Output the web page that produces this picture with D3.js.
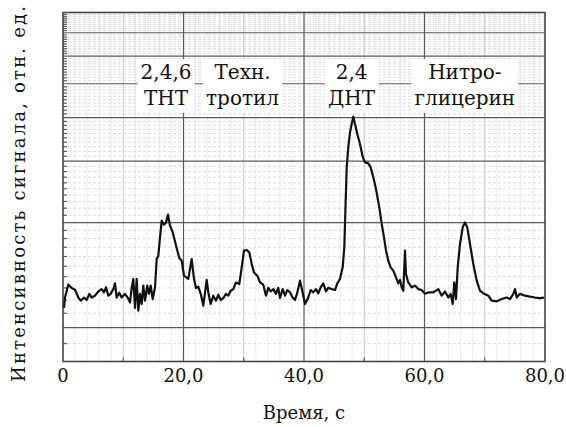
<!DOCTYPE html>
<html>
<head>
<meta charset="utf-8">
<script src="https://cdn.jsdelivr.net/npm/d3@7"></script>
<style>
  body { margin: 0; background: #fff; }
  text { font-family: "DejaVu Serif", serif; fill: #111; }
</style>
</head>
<body>
<div id="chart"></div>
<script>
// Time axis, seconds
const timeSec = [
  0.17, 0.33, 0.88, 1.44, 1.99, 2.54, 2.94, 3.49, 3.93, 4.37, 4.76, 5.31, 5.86, 6.42, 6.80, 7.14, 7.52, 7.92, 8.35, 8.63,
  8.91, 9.34, 9.74, 10.29, 10.74, 11.12, 11.40, 11.67, 11.95, 12.23, 12.50, 12.78, 13.06, 13.33, 13.61, 13.99, 14.27, 14.56, 14.89, 15.27,
  15.55, 15.82, 16.10, 16.38, 16.76, 17.10, 17.43, 17.76, 18.21, 18.76, 19.30, 19.70, 20.08, 20.80, 21.36, 21.74, 22.07, 22.46, 22.86, 23.29,
  23.85, 24.12, 24.51, 24.95, 25.39, 25.78, 26.17, 26.61, 27.05, 27.44, 27.83, 28.27, 28.71, 29.26, 29.66, 30.04, 30.49, 30.92, 31.32, 31.70,
  32.25, 32.70, 33.24, 33.69, 34.07, 34.47, 34.90, 35.35, 35.73, 36.02, 36.46, 36.85, 37.23, 37.68, 38.12, 38.51, 38.89, 39.34, 39.78, 40.17,
  40.71, 41.11, 41.54, 41.99, 42.37, 42.77, 43.20, 43.65, 44.03, 44.60, 45.15, 45.53, 45.98, 46.42, 46.69, 46.92, 47.09, 47.35, 47.63, 47.92,
  48.18, 48.46, 48.85, 49.29, 49.74, 50.12, 50.67, 51.07, 51.50, 51.95, 52.50, 52.90, 53.28, 53.61, 53.99, 54.39, 54.82, 55.27, 55.65, 55.93,
  56.22, 56.48, 56.76, 56.93, 57.31, 57.88, 58.42, 58.97, 59.53, 60.08, 60.63, 61.46, 62.29, 62.85, 63.40, 63.95, 64.35, 64.68, 64.95, 65.23,
  65.51, 65.89, 66.34, 66.72, 67.10, 67.55, 68.10, 68.66, 69.21, 69.88, 70.59, 71.15, 71.98, 72.81, 73.64, 74.19, 74.74, 75.02, 75.30, 75.85,
  76.68, 77.51, 78.34, 79.17, 79.83
];

// Signal intensity, relative units
const intensity = [
  1.14, 1.22, 1.33, 1.30, 1.285, 1.22, 1.195, 1.22, 1.20, 1.249, 1.22, 1.235, 1.27, 1.29, 1.262, 1.305, 1.235, 1.25, 1.29, 1.34,
  1.22, 1.26, 1.22, 1.25, 1.22, 1.18, 1.30, 1.379, 1.14, 1.38, 1.119, 1.25, 1.169, 1.32, 1.195, 1.32, 1.25, 1.32, 1.208, 1.305,
  1.573, 1.608, 1.815, 2.026, 1.973, 2.003, 2.108, 1.960, 1.876, 1.718, 1.584, 1.556, 1.409, 1.38, 1.573, 1.382, 1.30, 1.311, 1.25, 1.156,
  1.37, 1.262, 1.169, 1.235, 1.195, 1.243, 1.20, 1.216, 1.25, 1.235, 1.276, 1.29, 1.348, 1.334, 1.489, 1.662, 1.670, 1.644, 1.522, 1.440,
  1.409, 1.348, 1.328, 1.235, 1.30, 1.27, 1.29, 1.25, 1.30, 1.216, 1.29, 1.235, 1.282, 1.262, 1.22, 1.20, 1.262, 1.364, 1.26, 1.169,
  1.22, 1.282, 1.262, 1.29, 1.254, 1.305, 1.34, 1.27, 1.30, 1.29, 1.282, 1.34, 1.38, 1.489, 1.699, 2.311, 2.879, 3.286, 3.628, 3.835,
  4.024, 3.835, 3.589, 3.361, 3.090, 2.976, 2.957, 2.879, 2.696, 2.497, 2.212, 1.982, 1.815, 1.662, 1.556, 1.489, 1.457, 1.394, 1.34, 1.37,
  1.305, 1.276, 1.662, 1.425, 1.348, 1.305, 1.32, 1.29, 1.282, 1.25, 1.262, 1.262, 1.29, 1.235, 1.27, 1.22, 1.25, 1.169, 1.348, 1.208,
  1.489, 1.737, 1.938, 2.003, 1.938, 1.737, 1.522, 1.364, 1.276, 1.25, 1.235, 1.195, 1.19, 1.208, 1.22, 1.208, 1.25, 1.29, 1.22, 1.25,
  1.235, 1.227, 1.22, 1.216, 1.22
];

// Tick labels of the time axis
const xTicks = [0, 20, 40, 60, 80];
const xTickLabels = ["0", "20,0", "40,0", "60,0", "80,0"];

// Peak annotations: two lines each, centred at a time value
const peakTime = [17.1, 29.8, 47.9, 66.7];
const peakLine1 = ["2,4,6", "Техн.", "2,4", "Нитро-"];
const peakLine2 = ["ТНТ", "тротил", "ДНТ", "глицерин"];

const width = 566, height = 427;
const margin = { top: 12.5, right: 21, bottom: 65.5, left: 63 };

const svg = d3.select("#chart").append("svg")
  .attr("width", width)
  .attr("height", height)
  .attr("viewBox", [0, 0, width, height]);

const x = d3.scaleLinear()
  .domain([0, 80])
  .range([margin.left, width - margin.right]);

// Vertical axis is logarithmic, from 0.8 up to 8
const y = d3.scaleLog()
  .domain([0.8, 8])
  .range([height - margin.bottom, margin.top]);

const grid = svg.append("g");

// Fine vertical grid every 2 s
grid.selectAll(".vfine")
  .data(d3.range(2, 80, 2).filter(v => v % 10 !== 0))
  .join("line")
  .attr("x1", d => x(d)).attr("x2", d => x(d))
  .attr("y1", y(8)).attr("y2", y(0.8))
  .attr("stroke", "#ededed")
  .attr("stroke-width", 1);

// Minor horizontal grid every 0.1
const minorY = d3.range(9, 80).map(v => v / 10).filter(v => Math.abs(v - Math.round(v)) > 1e-6);
grid.selectAll(".hminor")
  .data(minorY)
  .join("line")
  .attr("x1", x(0)).attr("x2", x(80))
  .attr("y1", d => y(d)).attr("y2", d => y(d))
  .attr("stroke", "#d2d2d2")
  .attr("stroke-dasharray", "3,2")
  .attr("stroke-width", 0.8);

// Mid vertical grid at 10, 30, 50, 70
grid.selectAll(".vmid")
  .data([10, 30, 50, 70])
  .join("line")
  .attr("x1", d => x(d)).attr("x2", d => x(d))
  .attr("y1", y(8)).attr("y2", y(0.8))
  .attr("stroke", "#c8c8c8")
  .attr("stroke-width", 1);

// Major horizontal grid at 1..7
grid.selectAll(".hmajor")
  .data([1, 2, 3, 4, 5, 6, 7])
  .join("line")
  .attr("x1", x(0)).attr("x2", x(80))
  .attr("y1", d => y(d)).attr("y2", d => y(d))
  .attr("stroke", "#5a5a5a")
  .attr("stroke-width", 1.2);

// Major vertical grid at 20, 40, 60
grid.selectAll(".vmajor")
  .data([20, 40, 60])
  .join("line")
  .attr("x1", d => x(d)).attr("x2", d => x(d))
  .attr("y1", y(8)).attr("y2", y(0.8))
  .attr("stroke", "#5a5a5a")
  .attr("stroke-width", 1.2);

// Inward ticks on the left edge
grid.selectAll(".ltick")
  .data(minorY)
  .join("line")
  .attr("x1", x(0)).attr("x2", x(0) + 4)
  .attr("y1", d => y(d)).attr("y2", d => y(d))
  .attr("stroke", "#444")
  .attr("stroke-width", 1);

// Inward ticks on the bottom edge
grid.selectAll(".btick")
  .data([10, 30, 50, 70])
  .join("line")
  .attr("x1", d => x(d)).attr("x2", d => x(d))
  .attr("y1", y(0.8)).attr("y2", y(0.8) - 4)
  .attr("stroke", "#444")
  .attr("stroke-width", 1);

// Frame
svg.append("rect")
  .attr("x", x(0)).attr("y", y(8))
  .attr("width", x(80) - x(0))
  .attr("height", y(0.8) - y(8))
  .attr("fill", "none")
  .attr("stroke", "#444")
  .attr("stroke-width", 1.6);

// Annotation labels with white boxes behind them
const ann = svg.append("g")
  .selectAll("g")
  .data(peakTime.map((t, i) => ({ t, a: peakLine1[i], b: peakLine2[i] })))
  .join("g")
  .attr("transform", d => `translate(${x(d.t)},0)`);

const annRect = ann.append("rect").attr("fill", "#fff");
const annText = ann.append("text")
  .attr("text-anchor", "middle")
  .style("font-size", "20px");
annText.append("tspan").attr("x", 0).attr("y", 79).text(d => d.a);
annText.append("tspan").attr("x", 0).attr("y", 105).text(d => d.b);
annRect.each(function () {
  const bb = this.parentNode.querySelector("text").getBBox();
  d3.select(this)
    .attr("x", bb.x - 3).attr("width", bb.width + 6)
    .attr("y", 59).attr("height", 54);
});

// Signal line
const line = d3.line()
  .x((d, i) => x(timeSec[i]))
  .y(d => y(d));

svg.append("path")
  .datum(intensity)
  .attr("fill", "none")
  .attr("stroke", "#111")
  .attr("stroke-width", 2.2)
  .attr("stroke-linejoin", "round")
  .attr("d", line);

// Time tick labels
svg.append("g")
  .selectAll("text")
  .data(xTicks)
  .join("text")
  .attr("x", d => x(d))
  .attr("y", 382)
  .attr("text-anchor", "middle")
  .style("font-size", "18px")
  .text((d, i) => xTickLabels[i]);

// Axis titles
svg.append("text")
  .attr("x", x(40))
  .attr("y", 419)
  .attr("text-anchor", "middle")
  .style("font-size", "18px")
  .text("Время, с");

svg.append("text")
  .attr("transform", "translate(25,194) rotate(-90)")
  .attr("text-anchor", "middle")
  .style("font-size", "18px")
  .attr("textLength", 376)
  .attr("lengthAdjust", "spacing")
  .text("Интенсивность сигнала, отн. ед.");
</script>
</body>
</html>
